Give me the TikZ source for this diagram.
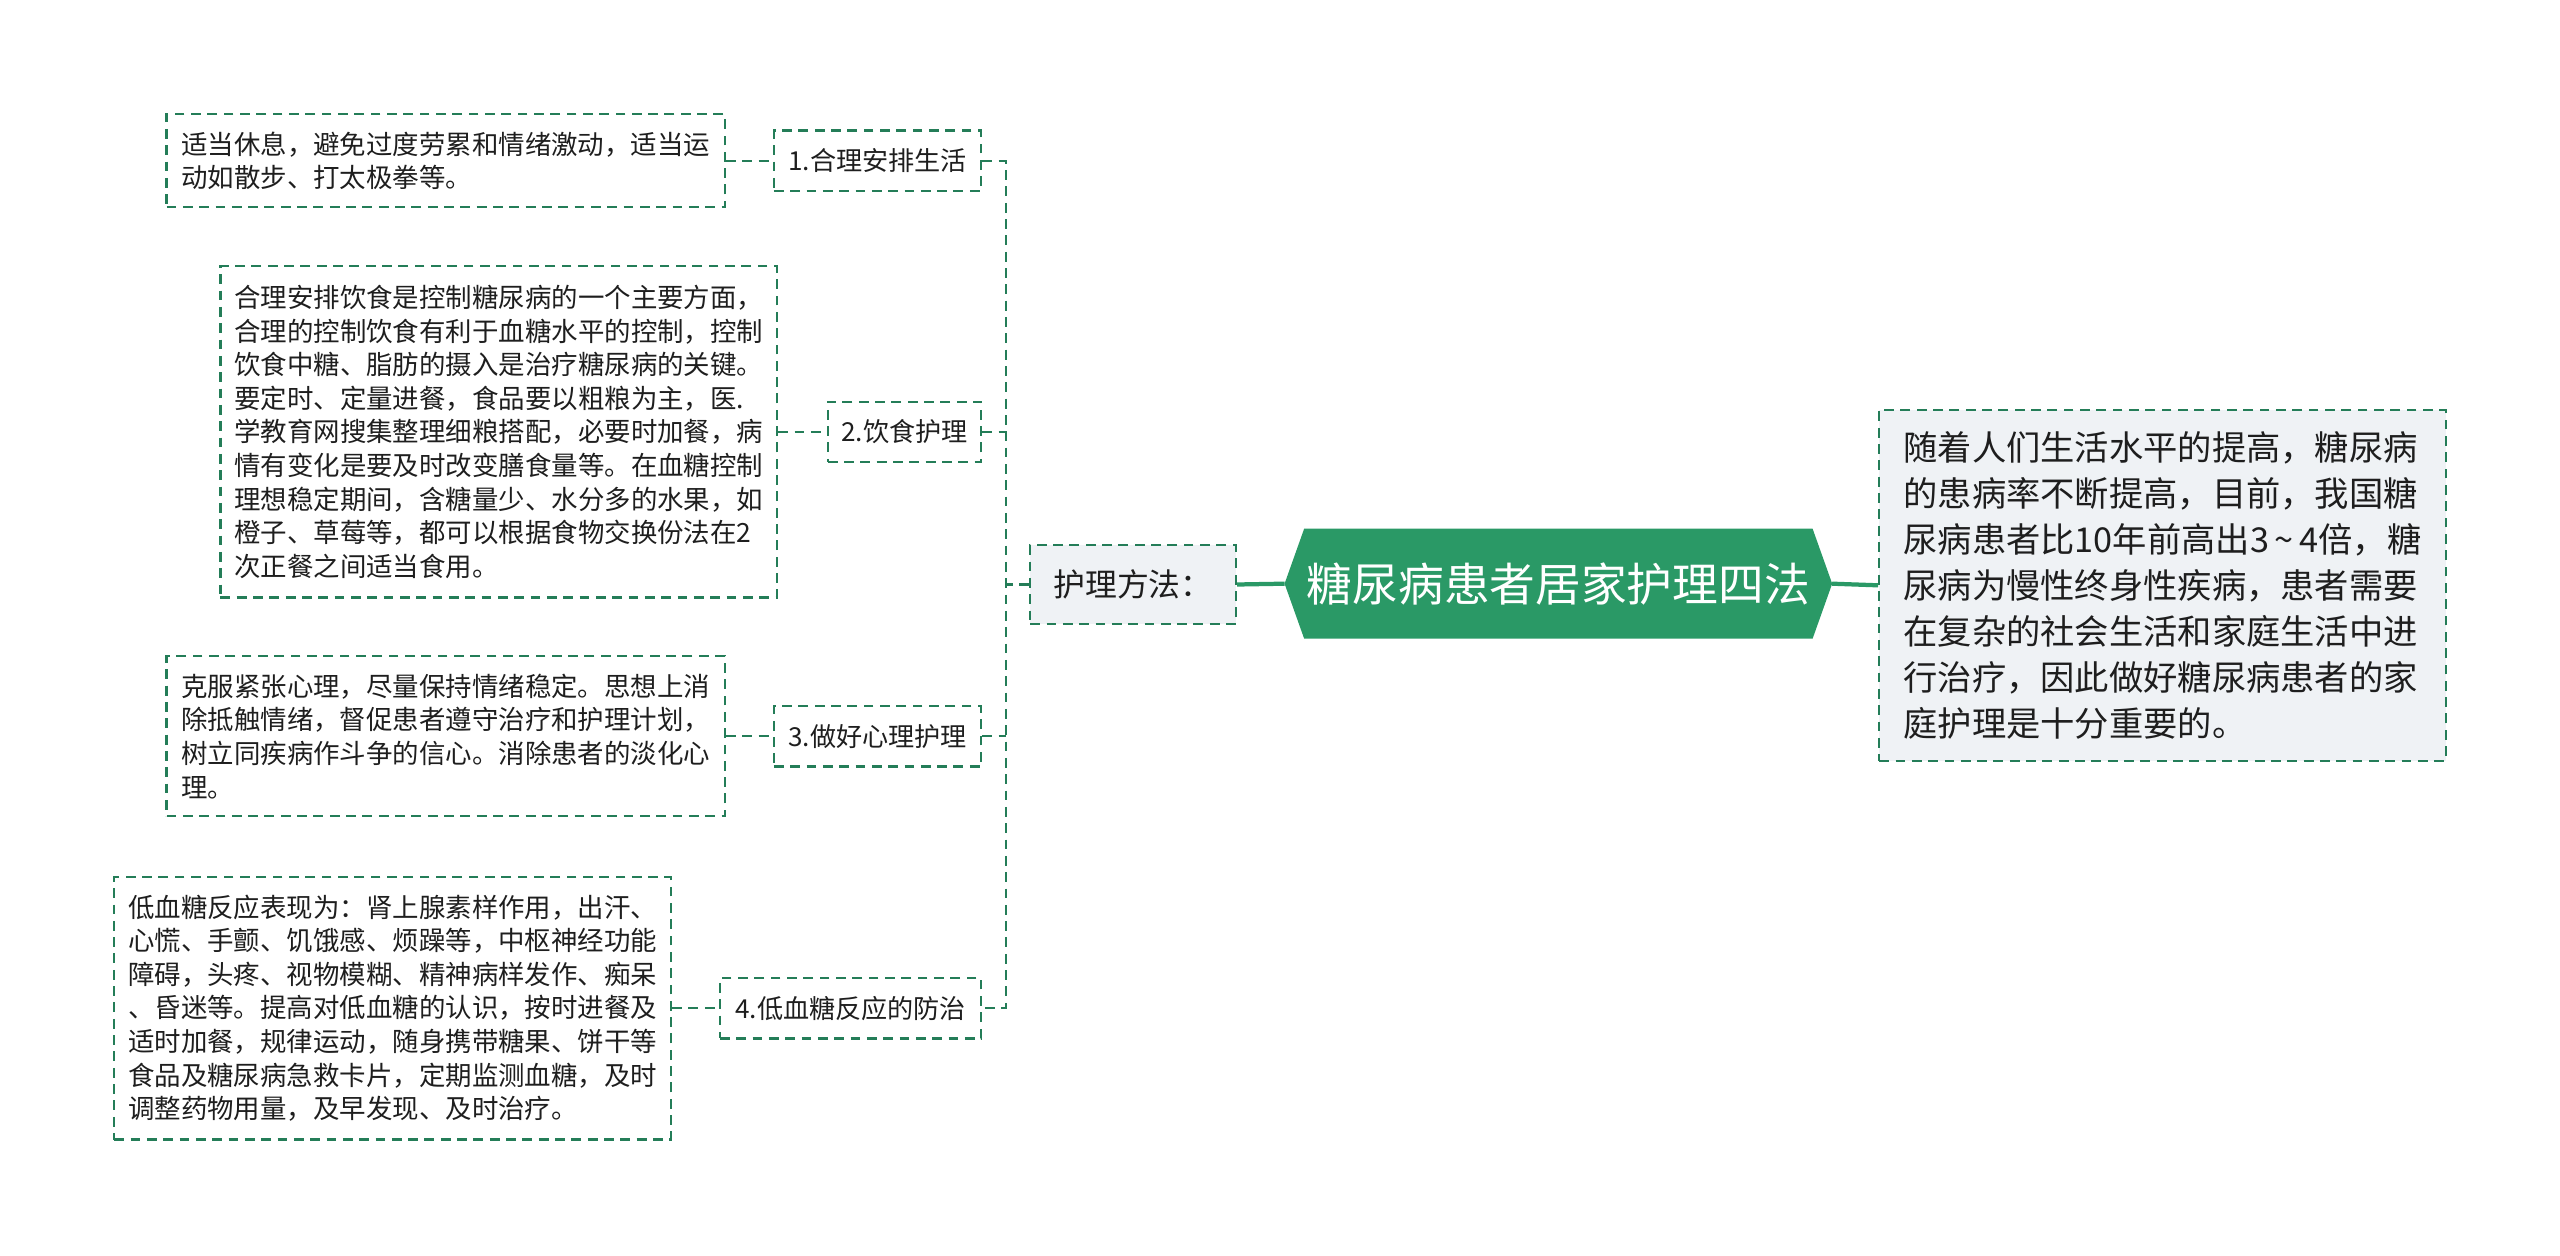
\documentclass[tikz,border=0pt]{standalone}
\usepackage{fontspec}
\setmainfont{Noto Sans CJK SC}
\usetikzlibrary{backgrounds}
\definecolor{maingreen}{RGB}{42,153,102}
\definecolor{dashgreen}{RGB}{36,125,88}
\definecolor{boxgray}{RGB}{239,242,245}
\definecolor{txt}{RGB}{30,30,30}
\begin{document}
\begin{tikzpicture}[x=1pt,y=-1pt,
  dashline/.style={draw=dashgreen, line width=1.4pt, dash pattern=on 6pt off 4pt},
  textbox/.style={dashline, align=left, text=txt, inner sep=0pt,
    font=\fontsize{16.2}{20.6}\selectfont},
  labelbox/.style={dashline, text=txt, inner sep=0pt,
    font=\fontsize{16}{19}\selectfont},
  conn/.style={dashline},
  solidconn/.style={draw=maingreen, line width=2.6pt},
]
\useasboundingbox (0,0) rectangle (1568,769);

% detail boxes
\node[textbox, minimum width=342pt, minimum height=57pt] (b1) at (273,98.5)
  {适当休息，避免过度劳累和情绪激动，适当运\\动如散步、打太极拳等。};
\node[textbox, minimum width=341pt, minimum height=203pt] (b2) at (305.5,264.5)
  {合理安排饮食是控制糖尿病的一个主要方面，\\
   合理的控制饮食有利于血糖水平的控制，控制\\
   饮食中糖、脂肪的摄入是治疗糖尿病的关键。\\
   要定时、定量进餐，食品要以粗粮为主，医.\\
   学教育网搜集整理细粮搭配，必要时加餐，病\\
   情有变化是要及时改变膳食量等。在血糖控制\\
   理想稳定期间，含糖量少、水分多的水果，如\\
   橙子、草莓等，都可以根据食物交换份法在2\\
   次正餐之间适当食用。};
\node[textbox, minimum width=342pt, minimum height=98pt] (b3) at (273,451)
  {克服紧张心理，尽量保持情绪稳定。思想上消\\
   除抵触情绪，督促患者遵守治疗和护理计划，\\
   树立同疾病作斗争的信心。消除患者的淡化心\\
   理。};
\node[textbox, minimum width=341pt, minimum height=161pt] (b4) at (240.5,617.5)
  {低血糖反应表现为：肾上腺素样作用，出汗、\\
   心慌、手颤、饥饿感、烦躁等，中枢神经功能\\
   障碍，头疼、视物模糊、精神病样发作、痴呆\\
   、昏迷等。提高对低血糖的认识，按时进餐及\\
   适时加餐，规律运动，随身携带糖果、饼干等\\
   食品及糖尿病急救卡片，定期监测血糖，及时\\
   调整药物用量，及早发现、及时治疗。};

% labels
\node[labelbox, minimum width=127pt, minimum height=37pt] (l1) at (537.5,98.5) {1.合理安排生活};
\node[labelbox, minimum width=94pt, minimum height=37pt] (l2) at (554,264.5) {2.饮食护理};
\node[labelbox, minimum width=127pt, minimum height=37pt] (l3) at (537.5,451) {3.做好心理护理};
\node[labelbox, minimum width=160pt, minimum height=37pt] (l4) at (521,617.5) {4.低血糖反应的防治};

% method node
\node[dashline, fill=boxgray, text=txt, inner sep=0pt, minimum width=126pt, minimum height=48pt,
  font=\fontsize{19.5}{22}\selectfont] (m) at (694,358) {护理方法：};

% title
\node[text=white, inner sep=0pt, minimum width=311pt, minimum height=67pt,
  font=\fontsize{28}{32}\selectfont] (t) at (954.5,357.5) {糖尿病患者居家护理四法};
\begin{scope}[on background layer]
  \fill[maingreen] ([xshift=-12pt]t.west) -- (t.north west) -- (t.north east)
    -- ([xshift=12pt]t.east) -- (t.south east) -- (t.south west) -- cycle;
\end{scope}

% right box
\node[dashline, fill=boxgray, text=txt, align=left, inner sep=0pt,
  minimum width=347pt, minimum height=215pt,
  font=\fontsize{21}{28.2}\selectfont] (r) at (1324.5,358.5)
  {随着人们生活水平的提高，糖尿病\\
   的患病率不断提高，目前，我国糖\\
   尿病患者比10年前高出3\,\char"7E\,4倍，糖\\
   尿病为慢性终身性疾病，患者需要\\
   在复杂的社会生活和家庭生活中进\\
   行治疗，因此做好糖尿病患者的家\\
   庭护理是十分重要的。};

% connectors
\coordinate (spine) at (616,358);
\draw[conn] (b1.east) -- (l1.west);
\draw[conn] (b2.east) -- (l2.west);
\draw[conn] (b3.east) -- (l3.west);
\draw[conn] (b4.east) -- (l4.west);
\draw[conn] (l1.east) -| (spine) |- (l4.east);
\draw[conn] (l2.east) -- (l2.east -| spine);
\draw[conn] (l3.east) -- (l3.east -| spine);
\draw[conn] (m.west) -- (spine);
\draw[solidconn] (m.east) -- ([xshift=-12pt]t.west);
\draw[solidconn] ([xshift=12pt]t.east) -- (r.west);
\end{tikzpicture}
\end{document}
